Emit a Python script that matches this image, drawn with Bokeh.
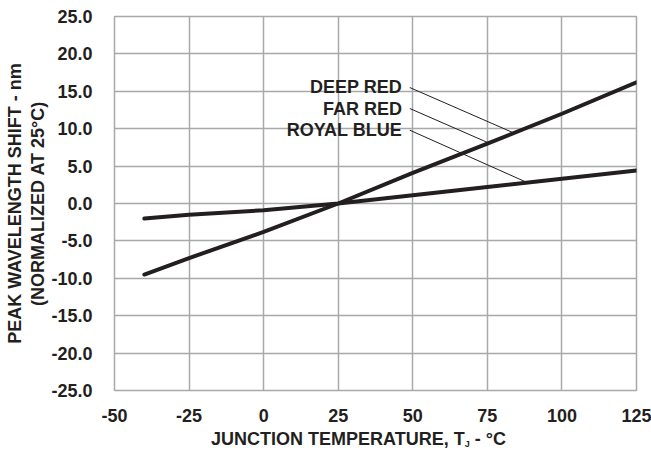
import numpy as np
from bokeh.plotting import figure
from bokeh.layouts import column
from bokeh.models import Range1d, FixedTicker, Label, Title, Div
from bokeh.embed import file_html
from bokeh.resources import INLINE

# ---- data ----
temps = [-40, -25, 0, 25, 50, 75, 100, 125]
red_shift = [-9.5, -7.3, -3.8, 0.0, 4.1, 8.0, 12.0, 16.2]   # DEEP RED / FAR RED
blue_shift = [-2.0, -1.5, -0.9, 0.0, 1.1, 2.2, 3.3, 4.4]    # ROYAL BLUE

x_ticks = [-50, -25, 0, 25, 50, 75, 100, 125]
y_ticks = [-25, -20, -15, -10, -5, 0, 5, 10, 15, 20, 25]
x_tick_labels = {t: f"{t}" for t in x_ticks}
y_tick_labels = {t: f"{t:.1f}" for t in y_ticks}

series_names = ["DEEP RED", "FAR RED", "ROYAL BLUE"]
series_which = ["red", "red", "blue"]
leader_target_t = [83.9, 75.5, 88.4]

y_title_1 = "PEAK WAVELENGTH SHIFT - nm"
y_title_2 = "(NORMALIZED AT 25°C)"
x_title_main = "JUNCTION TEMPERATURE, T"
x_title_sub = "J"
x_title_tail = " - °C"

INK = "#231f20"
GRID = "#a7a9ac"
FONT = "Liberation Sans"

# ---- main chart ----
p = figure(width=651, height=424, output_backend="svg", toolbar_location=None,
           x_range=Range1d(-50, 125), y_range=Range1d(-25, 25))
p.min_border_left = 114
p.min_border_right = 15
p.min_border_top = 16
p.min_border_bottom = 33
p.background_fill_color = "white"
p.border_fill_color = "white"
p.outline_line_color = GRID
p.outline_line_width = 1.5

for ax in (p.xaxis, p.yaxis):
    ax.axis_line_color = None
    ax.major_tick_line_color = None
    ax.minor_tick_line_color = None
    ax.major_label_text_font = FONT
    ax.major_label_text_font_style = "bold"
    ax.major_label_text_font_size = "18px"
    ax.major_label_text_color = INK

p.xaxis.ticker = FixedTicker(ticks=x_ticks)
p.yaxis.ticker = FixedTicker(ticks=y_ticks)
p.xaxis.major_label_overrides = x_tick_labels
p.yaxis.major_label_overrides = y_tick_labels
p.xaxis.major_label_standoff = 12
p.yaxis.major_label_standoff = 16

p.xgrid.ticker = FixedTicker(ticks=x_ticks)
p.ygrid.ticker = FixedTicker(ticks=y_ticks)
p.grid.grid_line_color = GRID
p.grid.grid_line_width = 1.5

# curves
p.line(temps, red_shift, line_color=INK, line_width=4, line_cap="round")
p.line(temps, blue_shift, line_color=INK, line_width=4, line_cap="round")

# series labels with leader lines
label_x = 46.4
label_y = [15.6, 12.6, 9.8]
leader_start_x = 49.0
leader_start_y = [15.5, 12.7, 9.8]
for name, which, ly, sy, tt in zip(series_names, series_which, label_y,
                                    leader_start_y, leader_target_t):
    vals = red_shift if which == "red" else blue_shift
    ty = float(np.interp(tt, temps, vals))
    p.line([leader_start_x, tt], [sy, ty], line_color=INK, line_width=1)
    p.add_layout(Label(x=label_x, y=ly, text=name, text_align="right",
                       text_baseline="middle", text_font=FONT,
                       text_font_style="bold", text_font_size="18px",
                       text_color=INK))

# y axis titles (two lines, in the left panel)
p.add_layout(Title(text=y_title_2, align="center", standoff=2, text_font=FONT,
                   text_font_style="bold", text_font_size="18px", text_color=INK), "left")
p.add_layout(Title(text=y_title_1, align="center", standoff=0, text_font=FONT,
                   text_font_style="bold", text_font_size="18px", text_color=INK), "left")

# x axis title with subscript
xtitle = Div(
    text=(f"{x_title_main}<sub style='font-size:9px;vertical-align:-2px;'>{x_title_sub}</sub>"
          f"{x_title_tail}"),
    width=651, height=26, margin=(0, 0, 0, 0),
    styles={"font-family": FONT, "font-weight": "bold", "font-size": "18px",
            "color": INK, "line-height": "18px", "padding-top": "6px",
            "padding-left": "211px", "white-space": "nowrap"})

layout = column(p, xtitle, spacing=0)

open("out.html", "w").write(file_html(layout, INLINE))
